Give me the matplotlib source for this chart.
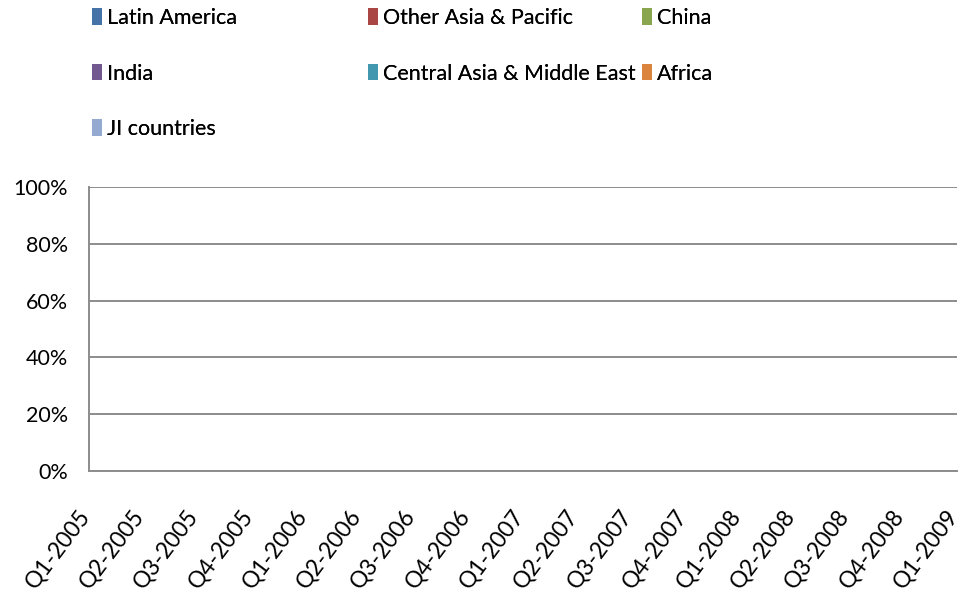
#!/usr/bin/env python3
import matplotlib
matplotlib.use("Agg")
import matplotlib.pyplot as plt
from matplotlib.ticker import PercentFormatter
from matplotlib.transforms import ScaledTranslation

plt.rcParams["font.family"] = ["Lato", "DejaVu Sans"]

# quarters on the category axis
QUARTERS = [
    "Q1-2005", "Q2-2005", "Q3-2005", "Q4-2005",
    "Q1-2006", "Q2-2006", "Q3-2006", "Q4-2006",
    "Q1-2007", "Q2-2007", "Q3-2007", "Q4-2007",
    "Q1-2008", "Q2-2008", "Q3-2008", "Q4-2008",
    "Q1-2009",
]

# share per region (the reference chart shows no filled area at all)
latin_america = [0, 0, 0, 0, 0, 0, 0, 0, 0, 0, 0, 0, 0, 0, 0, 0, 0]
other_asia = [0, 0, 0, 0, 0, 0, 0, 0, 0, 0, 0, 0, 0, 0, 0, 0, 0]
china = [0, 0, 0, 0, 0, 0, 0, 0, 0, 0, 0, 0, 0, 0, 0, 0, 0]
india = [0, 0, 0, 0, 0, 0, 0, 0, 0, 0, 0, 0, 0, 0, 0, 0, 0]
central_asia = [0, 0, 0, 0, 0, 0, 0, 0, 0, 0, 0, 0, 0, 0, 0, 0, 0]
africa = [0, 0, 0, 0, 0, 0, 0, 0, 0, 0, 0, 0, 0, 0, 0, 0, 0]
ji_countries = [0, 0, 0, 0, 0, 0, 0, 0, 0, 0, 0, 0, 0, 0, 0, 0, 0]

SERIES = ["Latin America", "Other Asia & Pacific", "China", "India",
          "Central Asia & Middle East", "Africa", "JI countries"]
COLORS = ["#4572A7", "#AA4643", "#89A54E", "#71588F",
          "#4198AF", "#DB843D", "#93A9CF"]

FS = 15.5
GRID = "#8c8c8c"


def main():
    fig = plt.figure(figsize=(9.73, 6.04), dpi=100)
    ax = fig.add_axes([89 / 973, 1 - 471 / 604, (957 - 89) / 973, (471 - 187) / 604])

    x = list(range(len(QUARTERS)))
    values = [latin_america, other_asia, china, india,
              central_asia, africa, ji_countries]
    polys = ax.stackplot(x, values, labels=SERIES, colors=COLORS, linewidth=0)

    ax.set_xlim(0, len(QUARTERS) - 1)
    ax.set_ylim(0, 1)
    ax.set_yticks([0, 0.2, 0.4, 0.6, 0.8, 1.0])
    ax.yaxis.set_major_formatter(PercentFormatter(1.0, decimals=0))
    ax.grid(axis="y", color=GRID, linewidth=1.4)
    ax.set_axisbelow(True)

    ax.set_xticks(x)
    ax.set_xticklabels(QUARTERS, rotation=53, ha="right", va="top",
                       rotation_mode="default", fontsize=16.5)
    ax.tick_params(axis="both", length=0)
    ax.tick_params(axis="y", pad=15, labelsize=FS)
    ax.tick_params(axis="x", pad=25)
    shift = ScaledTranslation(5 / 100, 0, fig.dpi_scale_trans)
    for lab in ax.get_xticklabels():
        lab.set_transform(lab.get_transform() + shift)

    for side in ("top", "right"):
        ax.spines[side].set_visible(False)
    for side in ("left", "bottom"):
        ax.spines[side].set_color(GRID)
        ax.spines[side].set_linewidth(1.4)

    # legend laid out like the spreadsheet: three equal-width columns, row-major
    columns = [[0, 3, 6], [1, 4], [2, 5]]
    col_x = [92, 368, 642]
    for idx, cx in zip(columns, col_x):
        leg = fig.legend([polys[i] for i in idx], [SERIES[i] for i in idx],
                         loc="upper left", bbox_to_anchor=(cx / 973, 1 - 8 / 604),
                         frameon=False, fontsize=FS, borderpad=0, borderaxespad=0,
                         handlelength=0.45, handleheight=0.8, handletextpad=0.25,
                         labelspacing=1.65)
        fig.add_artist(leg)

    fig.savefig("out.png", dpi=100)


if __name__ == "__main__":
    main()
